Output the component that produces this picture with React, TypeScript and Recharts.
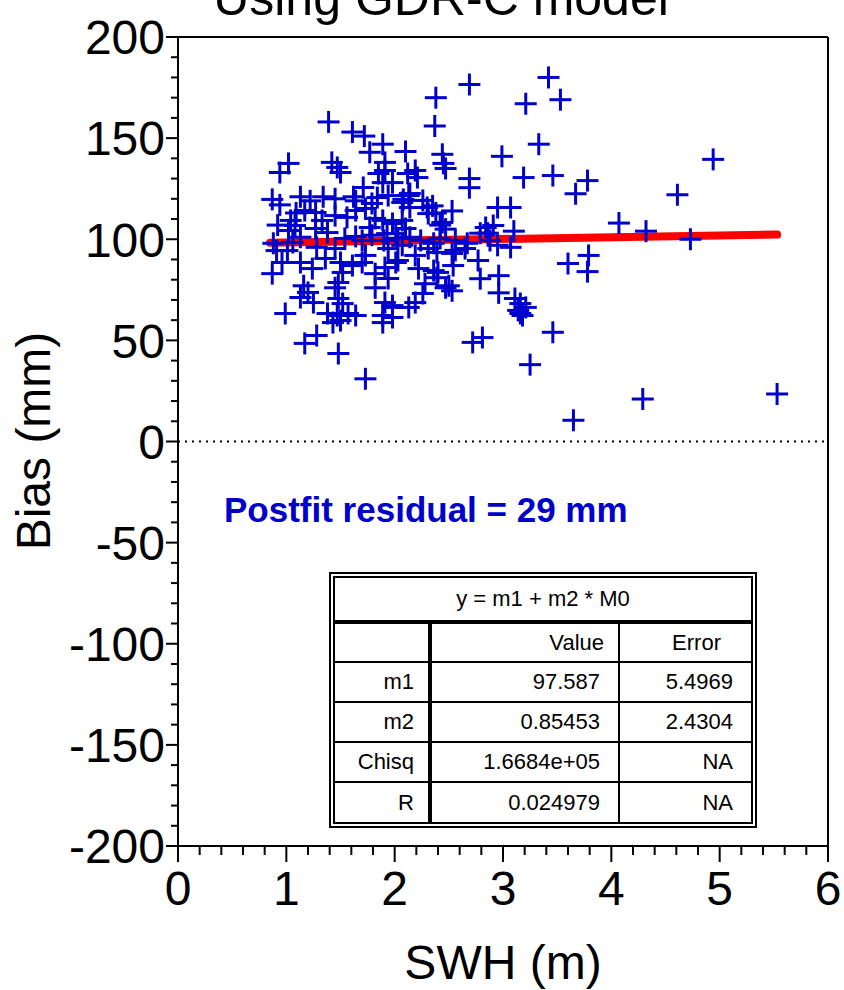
import React from 'react';
import { ComposedChart, Scatter, Line, XAxis, YAxis, ReferenceLine } from 'recharts';

const FONT = '"Liberation Sans", Arial, Helvetica, sans-serif';
const BLUE = '#0000CC';

// SWH (m) of each crossing
const swh = [
  2.38, 2.69, 3.21, 3.42, 3.53, 2.37, 3.33, 2.44, 2.45, 2.47,
  2.99, 2.69, 2.69, 3.19, 3.46, 3.78, 3.67, 4.07, 4.32, 4.73,
  4.61, 4.94, 4.29, 5.53, 3.65, 3.46, 3.25, 3.79, 3.60, 3.78,
  2.95, 3.07, 2.53, 2.38, 2.42, 2.47, 3.10, 2.86, 2.79, 2.67,
  2.95, 3.07, 2.56, 2.39, 2.77, 2.53, 2.54, 2.36, 2.39, 2.47,
  2.53, 2.79, 2.96, 2.96, 3.11, 3.16, 3.21, 3.16, 2.72, 2.81,
  1.39, 1.61, 1.72, 1.89, 2.10, 1.77, 1.02, 0.94, 1.42, 1.47,
  1.50, 0.87, 1.13, 1.34, 1.45, 1.62, 1.71, 1.85, 1.89, 1.84,
  1.94, 1.04, 1.08, 1.17, 1.27, 1.33, 1.45, 1.56, 1.64, 1.73,
  1.82, 1.89, 1.98, 1.02, 1.27, 1.77, 1.93, 1.91, 2.12, 2.21,
  2.14, 2.08, 2.30, 2.35, 1.79, 2.19, 1.98, 1.91, 2.13, 2.07,
  2.14, 2.26, 2.31, 2.44, 2.07, 2.10, 2.01, 2.84, 2.91, 0.88,
  0.91, 1.06, 1.28, 1.45, 0.96, 0.87, 1.24, 1.50, 1.52, 1.48,
  1.16, 1.20, 1.13, 1.25, 1.45, 1.48, 1.52, 1.38, 1.47, 1.57,
  1.64, 1.43, 1.50, 0.99, 1.82, 1.91, 1.94, 1.82, 1.91, 1.98,
  1.89, 1.89, 1.28, 1.17, 1.48, 1.73, 1.70, 1.94, 2.03, 2.22,
  2.31, 2.65, 2.40, 2.28, 2.26, 2.50, 3.14, 3.18, 1.98, 2.13,
  2.19, 1.98, 0.94, 1.09, 1.22, 1.64, 1.70, 2.03, 2.14, 2.24,
  1.90, 1.54, 1.13, 1.38, 1.64, 1.79, 2.56, 2.42, 2.88, 2.07,
  2.19, 2.01, 1.73, 1.61, 1.36, 1.13, 1.01, 0.92, 2.36,
];

// Bias (mm) of each crossing
const bias = [
  170, 176.5, 167, 180, 169, 156, 147, 142, 137.5, 135,
  141, 130, 125.5, 130.5, 131.5, 129, 122.5, 108, 104, 100,
  122, 139.5, 21, 23.5, 10.5, 54, 38, 92, 88, 84,
  115.7, 115.7, 114, 113, 107, 105, 104, 103, 103, 98,
  97, 96, 94.5, 93.5, 89.5, 93, 87, 84.5, 81, 76,
  74.5, 80.5, 82, 73.5, 70.7, 68.2, 66.3, 63.3, 49, 51.4,
  158, 153, 151, 147, 143.4, 143, 137.5, 133, 138, 135.5,
  133, 119.7, 121, 121, 120, 121, 125.6, 132.5, 128, 120.6,
  121.6, 109.3, 106.8, 114.2, 113.2, 109.3, 111.7, 110.8, 114.2, 115.2,
  110.3, 109.3, 107.8, 104.3, 105.3, 105.8, 102.8, 134, 132.5, 130.5,
  122.6, 119.7, 115.7, 116.5, 117.7, 134, 128, 138, 121.6, 118.2,
  115.7, 119.2, 112.7, 108.3, 109.3, 105.3, 102.8, 105.8, 106.8, 98,
  94.4, 98.4, 96, 95.4, 88.5, 83, 85.5, 88.5, 83.6, 78.6,
  77, 73.7, 71.2, 68.7, 76, 70.7, 68.2, 63.3, 62.3, 63.3,
  62.3, 58.8, 59.8, 63.3, 83, 86, 80.6, 76, 68.7, 66.3,
  62.3, 58.8, 52.4, 48.5, 43.5, 31, 88.5, 95.4, 89.5, 85.5,
  95.4, 95.4, 83.6, 78, 73.2, 77, 64.8, 62.3, 67.2, 66.3,
  68.7, 61.3, 117, 113, 119, 119, 99.4, 100.4, 101, 99.4,
  99.4, 100.4, 101, 103.3, 101.4, 102, 99.4, 100.4, 99.4, 97,
  92, 88.5, 92, 87, 90.5, 88.5, 94.4, 107, 98,
];

// linear fit end points
const fitSwh = [0.85, 5.53];
const fitBias = [98.3, 102.3];

const xTicks = [
  0, 0.2, 0.4, 0.6, 0.8, 1, 1.2, 1.4, 1.6, 1.8, 2, 2.2, 2.4, 2.6, 2.8, 3,
  3.2, 3.4, 3.6, 3.8, 4, 4.2, 4.4, 4.6, 4.8, 5, 5.2, 5.4, 5.6, 5.8, 6,
];
const yTicks = [
  -200, -190, -180, -170, -160, -150, -140, -130, -120, -110, -100,
  -90, -80, -70, -60, -50, -40, -30, -20, -10, 0,
  10, 20, 30, 40, 50, 60, 70, 80, 90, 100,
  110, 120, 130, 140, 150, 160, 170, 180, 190, 200,
];

const tableTitle = 'y = m1 + m2 * M0';
const tableHeader = ['', 'Value', 'Error'];
const tableRows = [
  ['m1', '97.587', '5.4969'],
  ['m2', '0.85453', '2.4304'],
  ['Chisq', '1.6684e+05', 'NA'],
  ['R', '0.024979', 'NA'],
];

const points = swh.map((x, i) => ({ x, y: bias[i] }));
const fitPoints = fitSwh.map((x, i) => ({ x, y: fitBias[i] }));

const Cross = (props: any) => {
  const { cx, cy } = props;
  if (cx == null || cy == null) return <g />;
  const h = 11;
  return (
    <g>
      <line x1={cx - h} x2={cx + h} y1={cy} y2={cy} stroke={BLUE} strokeWidth={3} />
      <line x1={cx} x2={cx} y1={cy - h} y2={cy + h} stroke={BLUE} strokeWidth={3} />
    </g>
  );
};

const YTick = (props: any) => {
  const { x, y, payload } = props;
  const v = payload.value;
  const major = Math.abs(v % 50) < 1e-6;
  return (
    <g>
      <line x1={x} x2={x - (major ? 12 : 7)} y1={y} y2={y} stroke="#000" strokeWidth={2} />
      {major && (
        <text x={x - 13} y={y} dy="0.36em" textAnchor="end" fontSize={48} fontFamily={FONT} fill="#000">
          {String(v)}
        </text>
      )}
    </g>
  );
};

const XTick = (props: any) => {
  const { x, y, payload } = props;
  const v = payload.value;
  const major = Math.abs(v - Math.round(v)) < 1e-6;
  return (
    <g>
      <line x1={x} x2={x} y1={y} y2={y + (major ? 16 : 9)} stroke="#000" strokeWidth={2} />
      {major && (
        <text x={x} y={y + 59} textAnchor="middle" fontSize={48} fontFamily={FONT} fill="#000">
          {String(Math.round(v))}
        </text>
      )}
    </g>
  );
};

const cellBase: React.CSSProperties = {
  fontFamily: FONT,
  fontSize: 22,
  color: '#000',
  padding: 0,
  verticalAlign: 'middle',
};

export default function App() {
  return (
    <div style={{ position: 'absolute', left: 0, top: 0, width: 844, height: 990, background: '#fff' }}>
      <ComposedChart
        width={844}
        height={990}
        margin={{ top: 37, right: 16, bottom: 0, left: 0 }}
        style={{ position: 'absolute', left: 0, top: 0 }}
      >
        <XAxis
          type="number"
          dataKey="x"
          domain={[0, 6]}
          ticks={xTicks}
          interval={0}
          tickSize={0}
          tickMargin={0}
          tickLine={false}
          tick={XTick}
          height={144}
          axisLine={{ stroke: '#000', strokeWidth: 2 }}
          allowDataOverflow
        />
        <YAxis
          type="number"
          dataKey="y"
          domain={[-200, 200]}
          ticks={yTicks}
          interval={0}
          tickSize={0}
          tickMargin={0}
          tickLine={false}
          tick={YTick}
          width={178}
          axisLine={{ stroke: '#000', strokeWidth: 2 }}
          allowDataOverflow
        />
        <ReferenceLine y={200} stroke="#000" strokeWidth={2} />
        <ReferenceLine x={6} stroke="#000" strokeWidth={2} />
        <ReferenceLine y={0} stroke="#000" strokeWidth={2} strokeDasharray="2 5" />
        <Line
          data={fitPoints}
          dataKey="y"
          type="linear"
          stroke="#FF0000"
          strokeWidth={8}
          strokeLinecap="round"
          dot={false}
          activeDot={false}
          isAnimationActive={false}
        />
        <Scatter data={points} dataKey="y" shape={Cross} isAnimationActive={false} />
      </ComposedChart>

      <svg
        width={844}
        height={990}
        style={{ position: 'absolute', left: 0, top: 0, pointerEvents: 'none' }}
      >
        <text x={441} y={15} textAnchor="middle" fontSize={50} fontFamily={FONT} fill="#000">
          Using GDR-C model
        </text>
        <text x={503} y={979} textAnchor="middle" fontSize={48} fontFamily={FONT} fill="#000">
          SWH (m)
        </text>
        <text
          x={50}
          y={441}
          textAnchor="middle"
          fontSize={48}
          fontFamily={FONT}
          fill="#000"
          transform="rotate(-90, 50, 441)"
        >
          Bias (mm)
        </text>
        <text x={224} y={522} textAnchor="start" fontSize={35} fontWeight="bold" fontFamily={FONT} fill={BLUE}>
          Postfit residual = 29 mm
        </text>
      </svg>

      <div
        style={{
          position: 'absolute',
          left: 329,
          top: 572,
          width: 428,
          height: 256,
          boxSizing: 'border-box',
          border: '6px double #000',
          background: '#fff',
        }}
      >
        <table
          style={{
            borderCollapse: 'collapse',
            width: '100%',
            height: '100%',
            tableLayout: 'fixed',
          }}
        >
          <colgroup>
            <col style={{ width: 95 }} />
            <col style={{ width: 189 }} />
            <col style={{ width: 132 }} />
          </colgroup>
          <tbody>
            <tr style={{ height: 44 }}>
              <td colSpan={3} style={{ ...cellBase, textAlign: 'center', borderBottom: '4px solid #000' }}>
                {tableTitle}
              </td>
            </tr>
            <tr style={{ height: 40 }}>
              <td style={{ ...cellBase, borderRight: '4px solid #000' }}>{tableHeader[0]}</td>
              <td style={{ ...cellBase, textAlign: 'right', paddingRight: 14, borderRight: '2px solid #000' }}>
                {tableHeader[1]}
              </td>
              <td style={{ ...cellBase, textAlign: 'right', paddingRight: 30 }}>{tableHeader[2]}</td>
            </tr>
            {tableRows.map((r) => (
              <tr key={r[0]} style={{ height: 40 }}>
                <td
                  style={{
                    ...cellBase,
                    textAlign: 'right',
                    paddingRight: 14,
                    borderRight: '4px solid #000',
                    borderTop: '2px solid #000',
                  }}
                >
                  {r[0]}
                </td>
                <td
                  style={{
                    ...cellBase,
                    textAlign: 'right',
                    paddingRight: 18,
                    borderRight: '2px solid #000',
                    borderTop: '2px solid #000',
                  }}
                >
                  {r[1]}
                </td>
                <td style={{ ...cellBase, textAlign: 'right', paddingRight: 18, borderTop: '2px solid #000' }}>
                  {r[2]}
                </td>
              </tr>
            ))}
          </tbody>
        </table>
      </div>
    </div>
  );
}
